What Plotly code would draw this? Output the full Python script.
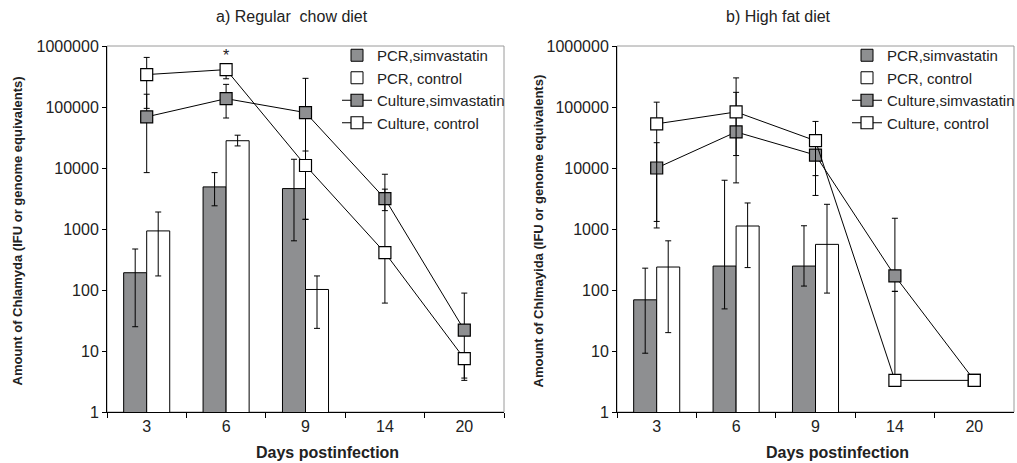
import plotly.graph_objects as go

days = ["3", "6", "9", "14", "20"]

# Panel a) Regular chow diet
a_pcr_sim = [192, 4900, 4600, None, None]
a_pcr_sim_hi = [470, 8400, 13900, None, None]
a_pcr_sim_lo = [25, 2400, 640, None, None]

a_pcr_ctl = [930, 28000, 102, None, None]
a_pcr_ctl_hi = [1900, 34500, 170, None, None]
a_pcr_ctl_lo = [170, 23000, 23.5, None, None]

a_cul_sim = [69000, 137000, 81000, 3150, 22]
a_cul_sim_hi = [162000, 235000, 295000, 7900, 89]
a_cul_sim_lo = [8400, 66000, 1440, 2000, 3.6]

a_cul_ctl = [340000, 410000, 11000, 410, 7.5]
a_cul_ctl_hi = [650000, 410000, 19000, 4500, 7.5]
a_cul_ctl_lo = [95000, 290000, 1440, 61, 3.3]

# Panel b) High fat diet
b_pcr_sim = [69, 247, 247, None, None]
b_pcr_sim_hi = [228, 6300, 1130, None, None]
b_pcr_sim_lo = [9.2, 49, 116, None, None]

b_pcr_ctl = [238, 1120, 560, None, None]
b_pcr_ctl_hi = [640, 2670, 2540, None, None]
b_pcr_ctl_lo = [20, 233, 89, None, None]

b_cul_sim = [10000, 39000, 16300, 170, 3.3]
b_cul_sim_hi = [26000, 174000, 28000, 1500, 3.3]
b_cul_sim_lo = [1330, 5700, 3550, 95, 3.3]

b_cul_ctl = [53000, 83000, 28000, 3.3, 3.3]
b_cul_ctl_hi = [120000, 300000, 58000, 95, 3.3]
b_cul_ctl_lo = [1040, 16000, 7500, 3.3, 3.3]

y_ticks = [1, 10, 100, 1000, 10000, 100000, 1000000]
y_ticktext = ["1", "10", "100", "1000", "10000", "100000", "1000000"]

GRAY = "#8e8f91"
FONT = "Liberation Sans, Arial, sans-serif"


def diffs(vals, lims, up=True):
    out = []
    for v, l in zip(vals, lims):
        if v is None or l is None:
            out.append(0)
        else:
            out.append(max(l - v, 0) if up else max(v - l, 0))
    return out


def err(vals, hi, lo):
    return dict(type="data", symmetric=False, array=diffs(vals, hi, True),
                arrayminus=diffs(vals, lo, False), color="#000000",
                thickness=1, width=3)


fig = go.Figure()

panels = [
    ("x", "y", "legend", (a_pcr_sim, a_pcr_sim_hi, a_pcr_sim_lo),
     (a_pcr_ctl, a_pcr_ctl_hi, a_pcr_ctl_lo),
     (a_cul_sim, a_cul_sim_hi, a_cul_sim_lo),
     (a_cul_ctl, a_cul_ctl_hi, a_cul_ctl_lo)),
    ("x2", "y2", "legend2", (b_pcr_sim, b_pcr_sim_hi, b_pcr_sim_lo),
     (b_pcr_ctl, b_pcr_ctl_hi, b_pcr_ctl_lo),
     (b_cul_sim, b_cul_sim_hi, b_cul_sim_lo),
     (b_cul_ctl, b_cul_ctl_hi, b_cul_ctl_lo)),
]

for xa, ya, lg, ps, pc, cs, cc in panels:
    fig.add_trace(go.Bar(x=days, y=ps[0], name="PCR,simvastatin", xaxis=xa, yaxis=ya,
                         marker=dict(color=GRAY, line=dict(color="#000", width=1)),
                         error_y=err(*ps), offsetgroup="1", legend=lg))
    fig.add_trace(go.Bar(x=days, y=pc[0], name="PCR, control", xaxis=xa, yaxis=ya,
                         marker=dict(color="#ffffff", line=dict(color="#000", width=1)),
                         error_y=err(*pc), offsetgroup="2", legend=lg))
    fig.add_trace(go.Scatter(x=days, y=cs[0], name="Culture,simvastatin", xaxis=xa, yaxis=ya,
                             mode="lines+markers", line=dict(color="#000", width=1),
                             marker=dict(symbol="square", size=12, color=GRAY,
                                         line=dict(color="#000", width=1.2)),
                             error_y=err(*cs), legend=lg))
    fig.add_trace(go.Scatter(x=days, y=cc[0], name="Culture, control", xaxis=xa, yaxis=ya,
                             mode="lines+markers", line=dict(color="#000", width=1),
                             marker=dict(symbol="square", size=12, color="#ffffff",
                                         line=dict(color="#000", width=1.2)),
                             error_y=err(*cc), legend=lg))

W, H = 1017, 463
axis_common = dict(showline=True, linecolor="#000", linewidth=1, ticks="outside",
                   ticklen=5, tickcolor="#000", showgrid=False, zeroline=False,
                   automargin=False,
                   tickfont=dict(family=FONT, size=16, color="#222"))

xa_common = dict(axis_common, type="category", tickson="boundaries",
                 categoryorder="array", categoryarray=days, range=[-0.5, 4.5],
                 autorange=False)
ya_common = dict(axis_common, type="log", range=[0, 6], tickvals=y_ticks,
                 ticktext=y_ticktext, ticklen=4)

legend_common = dict(xanchor="left", yanchor="top", bgcolor="rgba(0,0,0,0)",
                     font=dict(family=FONT, size=15, color="#222"),
                     tracegroupgap=0, itemwidth=30)

ydom = [(H - 412) / H, (H - 46) / H]
fig.update_layout(
    width=W, height=H, margin=dict(l=0, r=0, t=0, b=0, autoexpand=False),
    paper_bgcolor="white", plot_bgcolor="white",
    barmode="group", bargap=0.42, bargroupgap=0,
    font=dict(family=FONT, color="#222"),
    xaxis=dict(xa_common, domain=[107 / W, 504 / W], anchor="y"),
    yaxis=dict(ya_common, domain=ydom, anchor="x"),
    xaxis2=dict(xa_common, domain=[617 / W, 1014 / W], anchor="y2"),
    yaxis2=dict(ya_common, domain=ydom, anchor="x2"),
    legend=dict(legend_common, x=337 / W, y=1 - 39 / H),
    legend2=dict(legend_common, x=847 / W, y=1 - 39 / H),
    showlegend=True,
)

# gray frame of plot areas
for xr, yr in [("x domain", "y domain"), ("x2 domain", "y2 domain")]:
    fig.add_shape(type="rect", xref=xr, yref=yr, x0=0, x1=1, y0=0, y1=1,
                  line=dict(color="#9a9a9a", width=1), layer="below")

ann = [
    dict(text="a) Regular  chow diet", x=292 / W, y=1 - 17 / H, size=16, angle=0),
    dict(text="b) High fat diet", x=778 / W, y=1 - 17 / H, size=16, angle=0),
    dict(text="<b>Days postinfection</b>", x=327 / W, y=1 - 452 / H, size=16, angle=0),
    dict(text="<b>Days postinfection</b>", x=837 / W, y=1 - 452 / H, size=16, angle=0),
    dict(text="<b>Amount of Chlamyda (IFU or genome equivalents)</b>", x=17 / W, y=0.5,
         size=13, angle=-90),
    dict(text="<b>Amount of Chlmayida (IFU or genome equivalents)</b>", x=538 / W, y=0.5,
         size=13, angle=-90),
]
for a in ann:
    fig.add_annotation(text=a["text"], x=a["x"], y=a["y"], xref="paper", yref="paper",
                       xanchor="center", yanchor="middle", showarrow=False,
                       textangle=a["angle"],
                       font=dict(family=FONT, size=a["size"], color="#222"))

# significance asterisk above day 6 in panel a (category index 1)
fig.add_annotation(text="*", x=1, y=5.84, xref="x", yref="y", showarrow=False,
                   font=dict(family=FONT, size=16, color="#222"))

fig.write_html("out.html", config={"displayModeBar": False},
               post_script="document.body.style.margin='0px';document.body.style.overflow='hidden';")
